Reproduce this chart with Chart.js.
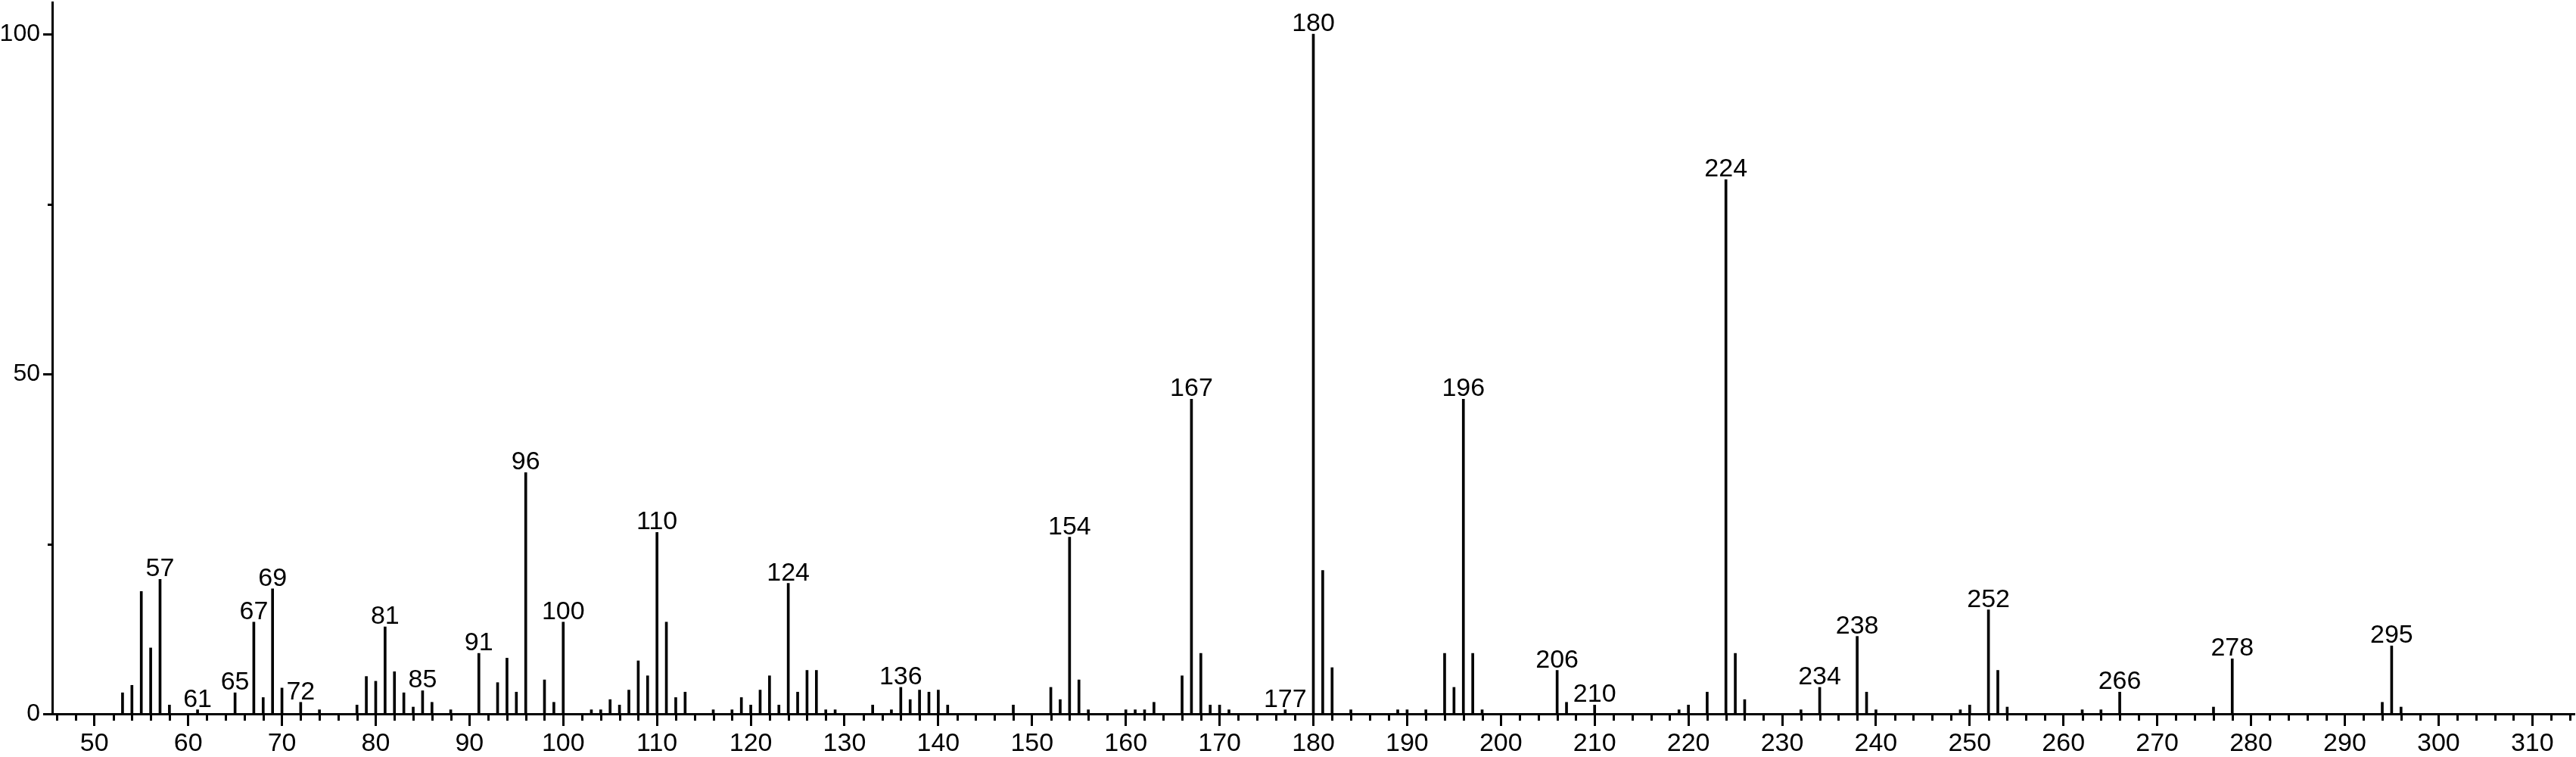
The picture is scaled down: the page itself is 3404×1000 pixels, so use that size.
<!DOCTYPE html>
<html>
<head>
<meta charset="utf-8">
<title>Mass spectrum</title>
<script src="https://cdn.jsdelivr.net/npm/chart.js@4.4.1/dist/chart.umd.min.js"></script>
<style>
  html, body { margin: 0; padding: 0; background: #fff; }
  #wrap { width: 3404px; height: 1000px; }
</style>
</head>
<body>
<div id="wrap"><canvas id="ms" width="3404" height="1000"></canvas></div>
<script>
// m/z and relative intensity
const mz = [
  53, 54, 55, 56, 57, 58, 61, 65, 67, 68, 69, 70, 72, 74, 78, 79, 80, 81, 82, 83, 84, 85, 86, 88,
  91, 93, 94, 95, 96, 98, 99, 100, 103, 104, 105, 106, 107, 108, 109, 110, 111, 112, 113,
  116, 118, 119, 120, 121, 122, 123, 124, 125, 126, 127, 128, 129, 133,
  135, 136, 137, 138, 139, 140, 141, 148, 152, 153, 154, 155, 156, 160, 161, 162, 163,
  166, 167, 168, 169, 170, 171, 177, 180, 181, 182, 184, 189, 190, 192,
  194, 195, 196, 197, 198, 206, 207, 210, 219, 220, 222, 224, 225, 226,
  232, 234, 238, 239, 240, 249, 250, 252, 253, 254, 262, 264, 266, 276, 278, 294, 295, 296
];
const intensity = [
  3.1, 4.2, 18.0, 9.7, 19.8, 1.3, 0.6, 3.1, 13.5, 2.4, 18.4, 3.8, 1.7, 0.6, 1.3, 5.5, 4.8, 12.8, 6.2, 3.1, 1.0, 3.4, 1.7, 0.6,
  8.9, 4.6, 8.2, 3.2, 35.5, 5.0, 1.7, 13.5, 0.6, 0.6, 2.1, 1.3, 3.5, 7.8, 5.6, 26.7, 13.5, 2.4, 3.2,
  0.6, 0.6, 2.4, 1.3, 3.5, 5.6, 1.3, 19.2, 3.2, 6.4, 6.4, 0.6, 0.6, 1.3,
  0.6, 3.9, 2.1, 3.5, 3.2, 3.5, 1.3, 1.3, 3.9, 2.1, 26.0, 5.0, 0.6, 0.6, 0.6, 0.6, 1.7,
  5.6, 46.3, 8.9, 1.3, 1.3, 0.6, 0.6, 100, 21.1, 6.8, 0.6, 0.6, 0.6, 0.6,
  8.9, 3.9, 46.3, 8.9, 0.6, 6.4, 1.7, 1.3, 0.6, 1.3, 3.2, 78.6, 8.9, 2.1,
  0.6, 3.9, 11.4, 3.2, 0.6, 0.6, 1.3, 15.3, 6.4, 1.0, 0.6, 0.6, 3.2, 1.0, 8.1, 1.7, 10.0, 1.0
];
// peaks that carry their m/z as a label
const labeledMz = [57, 61, 65, 67, 69, 72, 81, 85, 91, 96, 100, 110, 124, 136, 154, 167, 177, 180,
  196, 206, 210, 224, 234, 238, 252, 266, 278, 295];

const xTicks = [50, 60, 70, 80, 90, 100, 110, 120, 130, 140, 150, 160, 170, 180, 190, 200,
  210, 220, 230, 240, 250, 260, 270, 280, 290, 300, 310];
const yTicks = [0, 50, 100];
const yMinorTicks = [25, 75];

const FONT = '"Liberation Sans", Arial, Helvetica, sans-serif';

// short ticks every 2 m/z and at 25 / 75
const minorTicks = {
  id: 'minorTicks',
  afterDraw(chart) {
    const { ctx, scales: { x, y } } = chart;
    ctx.save();
    ctx.strokeStyle = '#000';
    ctx.lineWidth = 3;
    ctx.beginPath();
    for (let v = Math.ceil(x.min / 2) * 2; v <= x.max; v += 2) {
      if (v % 10 === 0) continue;
      const px = Math.round(x.getPixelForValue(v)) + 0.5;
      ctx.moveTo(px, x.top);
      ctx.lineTo(px, x.top + 9);
    }
    yMinorTicks.forEach(v => {
      const py = Math.round(y.getPixelForValue(v)) + 0.5;
      ctx.moveTo(y.right, py);
      ctx.lineTo(y.right - 6, py);
    });
    ctx.stroke();
    ctx.restore();
  }
};

// m/z number above the labelled peaks
const peakLabels = {
  id: 'peakLabels',
  afterDatasetsDraw(chart) {
    const { ctx } = chart;
    const meta = chart.getDatasetMeta(0);
    ctx.save();
    ctx.font = '34px ' + FONT;
    ctx.fillStyle = '#000';
    ctx.textAlign = 'center';
    ctx.textBaseline = 'alphabetic';
    labeledMz.forEach(m => {
      const bar = meta.data[mz.indexOf(m)];
      if (bar) ctx.fillText(String(m), bar.x, bar.y - 4);
    });
    ctx.restore();
  }
};

new Chart(document.getElementById('ms'), {
  type: 'bar',
  data: {
    datasets: [{
      data: mz.map((m, i) => ({ x: m, y: intensity[i] })),
      backgroundColor: '#000',
      borderWidth: 0,
      barThickness: 3
    }]
  },
  options: {
    responsive: false,
    animation: false,
    layout: { padding: { top: 3, right: 2, left: 0, bottom: 0 } },
    plugins: { legend: { display: false }, tooltip: { enabled: false } },
    scales: {
      x: {
        type: 'linear',
        min: 45.5,
        max: 314.5,
        bounds: 'data',
        offset: false,
        afterBuildTicks: s => { s.ticks = xTicks.map(v => ({ value: v })); },
        // fixed height, and no extra room for the end labels
        afterFit: s => { s.height = 57; s.paddingLeft = 0; s.paddingRight = 0; },
        grid: { drawOnChartArea: false, offset: false, tickLength: 16, tickWidth: 3, tickColor: '#000' },
        border: { color: '#000', width: 3 },
        ticks: { color: '#000', font: { family: FONT, size: 34 }, padding: 3, maxRotation: 0, autoSkip: false }
      },
      y: {
        min: 0,
        max: 104.7,
        bounds: 'data',
        afterBuildTicks: s => { s.ticks = yTicks.map(v => ({ value: v })); },
        afterFit: s => { s.width = 69; s.paddingTop = 0; s.paddingBottom = 0; },
        grid: { drawOnChartArea: false, tickLength: 12, tickWidth: 3, tickColor: '#000' },
        border: { color: '#000', width: 3 },
        ticks: { color: '#000', font: { family: FONT, size: 32 }, padding: 4 }
      }
    }
  },
  plugins: [minorTicks, peakLabels]
});
</script>
</body>
</html>
